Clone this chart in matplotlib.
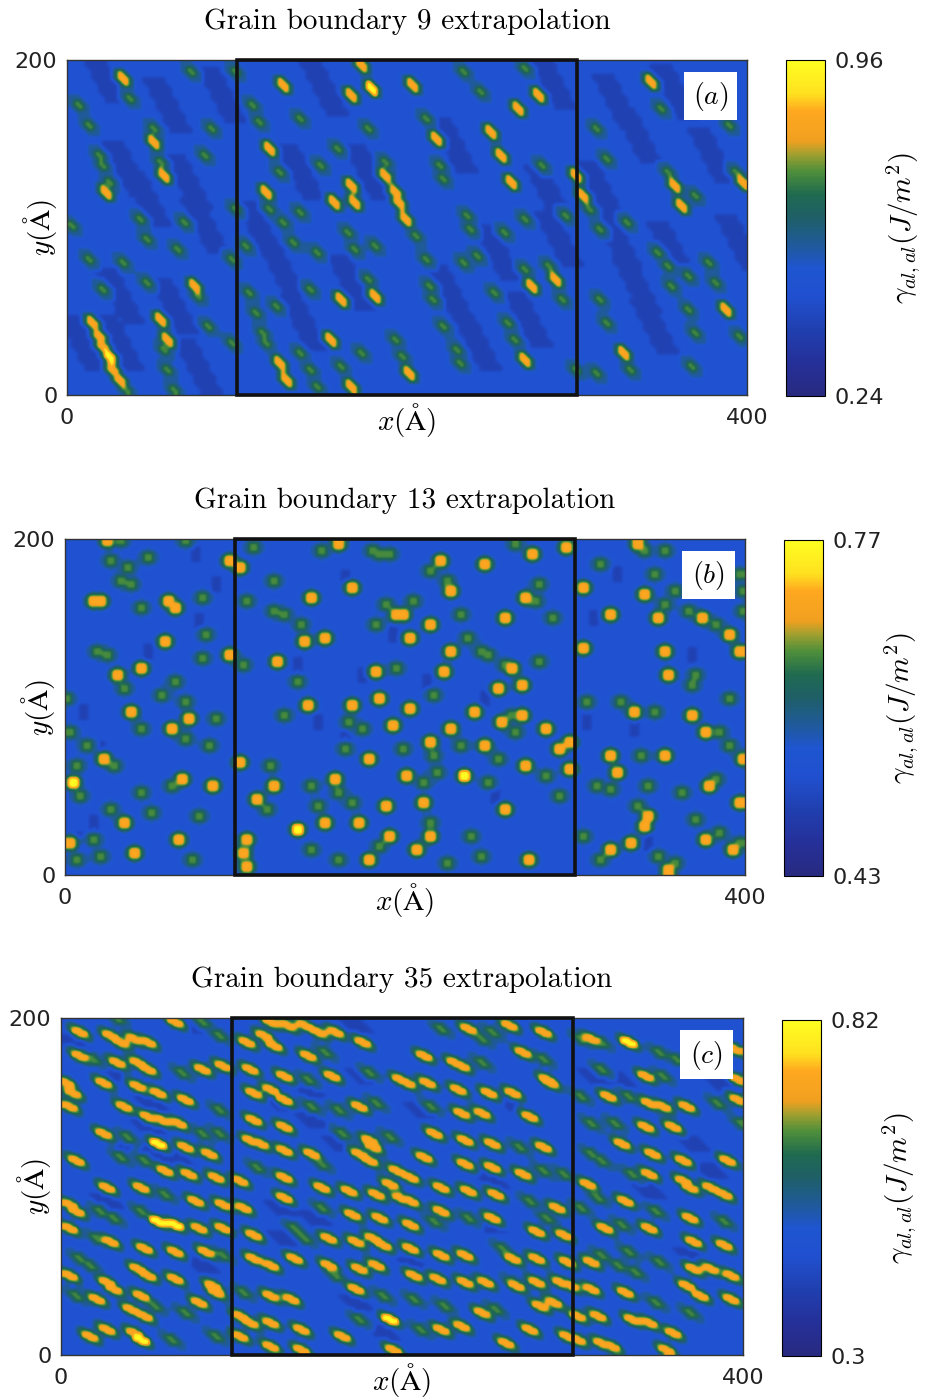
import numpy as np
import matplotlib
matplotlib.use('Agg')
import matplotlib.pyplot as plt
from matplotlib.colors import LinearSegmentedColormap
from matplotlib.patches import Rectangle

plt.rcParams['mathtext.fontset'] = 'cm'

# Spots, in Angstrom. hot = orange, warm = green, cold = dark blue, top = yellow

titles = ['Grain boundary 9 extrapolation', 'Grain boundary 13 extrapolation', 'Grain boundary 35 extrapolation']
panel_tags = ['$(a)$', '$(b)$', '$(c)$']
vmins = [0.24, 0.43, 0.30]
vmaxs = [0.96, 0.77, 0.82]
tick_low = ['0.24', '0.43', '0.3']
tick_high = ['0.96', '0.77', '0.82']

gb9_top = [(24, 22), (179, 183)]
gb9_hot = [(32, 188), (50, 151), (57, 131), (75, 65), (55, 45), (59, 33), (15, 43), (18, 35), (21, 28), (27, 14), (31, 8),
           (173, 196), (166, 178), (126, 184), (119, 146), (166, 124), (169, 115), (187, 131), (192, 121), (180, 58),
           (160, 56), (155, 32), (125, 19), (129, 9), (166, 5), (199, 104), (195, 114), (203, 185), (216, 153), (254, 143),
           (261, 126), (276, 179), (298, 131), (272, 64), (286, 69), (268, 20), (200, 13), (342, 187), (303, 119), (356, 124),
           (360, 112), (396, 126), (327, 24), (387, 50), (23, 120), (116, 120), (157, 115), (248, 156), (264, 171)]
gb9_warm = [(36, 177), (73, 192), (55, 139), (13, 161), (21, 137), (68, 103), (77, 58), (35, 3), (47, 92), (42, 104), (64, 87),
            (33, 79), (13, 81), (46, 66), (20, 62), (80, 142), (84, 159), (96, 81), (82, 40), (96, 30), (56, 26), (59, 14),
            (63, 3), (98, 193), (98, 110), (2, 100), (51, 158), (25, 126), (18, 142), (7, 172), (137, 164), (119, 111),
            (133, 91), (177, 68), (114, 37), (117, 30), (160, 16), (192, 32), (196, 22), (200, 13), (106, 60), (110, 49),
            (109, 172), (113, 162), (124, 133), (148, 136), (158, 147), (176, 159), (126, 102), (137, 108), (147, 85),
            (169, 86), (181, 88), (122, 52), (143, 63), (137, 25), (142, 15), (146, 5), (173, 25), (165, 97), (105, 89),
            (187, 139), (219, 137), (235, 107), (269, 105), (292, 106), (241, 83), (212, 64), (221, 41), (228, 26),
            (232, 192), (242, 181), (269, 195), (211, 165), (278, 136), (221, 129), (204, 95), (210, 80), (236, 98), (232, 78),
            (282, 77), (268, 74), (291, 57), (215, 57), (250, 60), (259, 42), (263, 32), (231, 18), (298, 15), (257, 96),
            (348, 171), (394, 34), (306, 111), (313, 99), (310, 159), (317, 140), (329, 103), (369, 119), (352, 133), (388, 160),
            (392, 132), (347, 85), (352, 77), (376, 79), (381, 67), (355, 64), (313, 57), (317, 42), (331, 15), (366, 16),
            (368, 37), (311, 13), (365, 71), (364, 50)]
gb9_cold = [(59, 173), (35, 134), (31, 58), (62, 52), (76, 17), (30, 31), (8, 31), (80, 100), (70, 126), (21, 191), (151, 182),
            (137, 133), (176, 133), (113, 98), (125, 77), (139, 43), (90, 178), (47, 117), (166, 67), (227, 148), (253, 85),
            (282, 120), (288, 93), (225, 60), (270, 45), (241, 31), (335, 155), (312, 123), (323, 93), (334, 64), (355, 87),
            (394, 90), (345, 41), (378, 142), (357, 180), (323, 175), (284, 186)]

gb13_top = [(5, 55), (136, 26), (235, 59)]
gb13_hot = [(20, 162), (16, 163), (61, 163), (65, 159), (96, 186), (103, 183), (24, 198), (59, 138), (96, 130), (45, 122),
            (30, 118), (38, 96), (73, 93), (63, 86), (22, 68), (69, 57), (87, 52), (3, 18), (41, 12), (67, 21), (34, 31),
            (102, 67), (160, 197), (168, 170), (145, 165), (194, 154), (140, 138), (153, 140), (182, 121), (184, 105), (168, 100),
            (142, 101), (192, 89), (178, 68), (158, 56), (123, 53), (113, 45), (107, 21), (105, 13), (107, 5), (172, 31), (178, 9),
            (153, 30), (189, 40), (190, 23), (124, 126), (200, 59), (198, 154), (215, 148), (227, 168), (221, 187), (247, 185),
            (274, 191), (295, 194), (270, 165), (258, 153), (203, 140), (227, 132), (263, 123), (222, 121), (254, 110), (269, 112),
            (202, 98), (240, 96), (268, 94), (256, 91), (227, 86), (214, 79), (246, 76), (297, 79), (290, 74), (271, 64), (296, 62),
            (211, 42), (259, 38), (215, 23), (206, 15), (273, 9), (283, 87), (336, 197), (340, 166), (321, 154), (349, 153),
            (374, 152), (391, 142), (352, 132), (355, 119), (396, 133), (304, 135), (368, 94), (335, 96), (376, 84), (352, 71),
            (398, 68), (325, 60), (379, 53), (396, 42), (342, 34), (340, 28), (377, 20), (392, 14), (355, 3), (332, 19), (321, 15),
            (304, 170), (321, 70)]
gb13_warm = [(49, 189), (36, 182), (26, 186), (81, 165), (44, 159), (83, 142), (81, 129), (64, 115), (56, 106), (35, 110), (3, 85),
             (44, 87), (85, 77), (13, 76), (28, 65), (7, 65), (45, 49), (9, 47), (27, 38), (79, 35), (21, 11), (74, 9), (6, 9),
             (19, 133), (25, 131), (1, 104), (70, 198), (32, 198), (17, 20), (39, 173), (32, 175), (89, 92), (71, 102), (70, 80),
             (50, 36), (62, 53), (110, 195), (185, 190), (190, 190), (180, 192), (122, 156), (128, 154), (182, 149), (188, 161),
             (105, 125), (136, 114), (194, 123), (128, 94), (120, 64), (119, 38), (160, 48), (168, 42), (198, 75), (145, 15),
             (160, 8), (185, 16), (123, 175), (106, 163), (175, 86), (166, 90), (164, 75), (148, 41), (145, 52), (138, 148),
             (150, 192), (205, 162), (225, 175), (237, 141), (244, 133), (249, 130), (258, 125), (277, 163), (287, 153), (233, 154),
             (215, 180), (278, 126), (216, 106), (262, 95), (265, 85), (255, 69), (249, 54), (211, 54), (291, 47), (232, 76),
             (216, 71), (218, 60), (239, 23), (244, 10), (224, 7), (215, 31), (283, 59), (278, 172), (265, 196), (341, 192),
             (352, 193), (315, 185), (359, 169), (353, 161), (366, 156), (382, 148), (371, 118), (368, 112), (390, 104), (327, 102),
             (346, 96), (307, 102), (390, 76), (385, 84), (338, 70), (362, 48), (383, 57), (321, 51), (312, 53), (370, 32), (385, 25),
             (396, 19), (304, 23), (315, 8), (349, 10), (359, 7), (342, 52), (398, 157), (399, 168), (396, 178), (336, 41), (347, 179)]
gb13_cold = [(77, 190), (88, 173), (78, 150), (48, 132), (10, 96), (21, 74), (17, 30), (9, 20), (164, 177), (136, 125), (175, 118),
             (148, 91), (193, 142), (164, 85), (212, 114), (247, 104), (252, 47), (324, 178), (311, 152), (306, 90), (334, 86),
             (343, 19), (369, 131)]

gb35_top = [(57, 79), (67, 76), (47, 8), (56, 125), (192, 21), (332, 184)]
gb35_hot = [(11, 191), (28, 188), (34, 185), (43, 187), (50, 184), (67, 197), (11, 177), (33, 172), (44, 172), (51, 169), (95, 171),
            (82, 168), (25, 161), (3, 160), (7, 155), (45, 158), (56, 154), (72, 151), (5, 146), (36, 147), (50, 141), (59, 138),
            (69, 137), (25, 131), (72, 122), (87, 119), (9, 115), (61, 109), (74, 107), (90, 104), (26, 98), (47, 98), (79, 91),
            (94, 88), (4, 89), (9, 85), (81, 74), (95, 74), (5, 75), (29, 66), (48, 63), (66, 61), (84, 60), (44, 51), (51, 46),
            (5, 47), (26, 42), (30, 39), (66, 45), (88, 41), (90, 37), (47, 35), (21, 33), (80, 31), (40, 27), (48, 23), (27, 14),
            (16, 10), (43, 12), (123, 197), (132, 194), (143, 194), (151, 190), (160, 190), (109, 185), (118, 188), (125, 182),
            (145, 177), (177, 184), (111, 169), (130, 164), (158, 164), (198, 163), (112, 154), (122, 156), (130, 151), (174, 147),
            (113, 139), (131, 135), (181, 126), (183, 123), (110, 126), (116, 124), (130, 121), (147, 119), (174, 118), (181, 114),
            (196, 109), (131, 105), (104, 103), (153, 99), (169, 96), (192, 101), (199, 92), (184, 95), (107, 87), (131, 93),
            (170, 82), (186, 80), (113, 70), (156, 69), (173, 66), (183, 68), (189, 64), (113, 57), (123, 52), (136, 57), (156, 53),
            (174, 51), (185, 52), (122, 35), (135, 33), (172, 38), (105, 23), (110, 19), (123, 18), (141, 15), (164, 11), (104, 10),
            (123, 5), (141, 3), (195, 3), (238, 192), (263, 195), (282, 191), (213, 176), (231, 173), (234, 170), (271, 179),
            (202, 161), (215, 160), (232, 157), (251, 155), (264, 154), (286, 160), (235, 142), (247, 142), (275, 140), (218, 130),
            (236, 127), (253, 124), (283, 123), (213, 117), (237, 112), (253, 110), (271, 107), (204, 105), (222, 98), (238, 97),
            (254, 94), (204, 91), (290, 87), (222, 85), (253, 81), (204, 76), (278, 73), (294, 70), (205, 63), (222, 58), (236, 59),
            (265, 57), (279, 57), (296, 54), (220, 45), (206, 46), (236, 43), (249, 42), (266, 41), (279, 43), (293, 43), (298, 40),
            (246, 24), (281, 28), (289, 30), (223, 15), (235, 16), (274, 15), (261, 6), (297, 11), (285, 163), (311, 186), (395, 180),
            (342, 164), (397, 163), (321, 153), (345, 149), (352, 147), (397, 151), (343, 135), (359, 135), (367, 147), (328, 124),
            (347, 119), (390, 115), (365, 114), (345, 107), (309, 100), (364, 103), (369, 98), (381, 98), (388, 94), (331, 90),
            (369, 81), (319, 75), (344, 74), (388, 65), (371, 66), (310, 54), (371, 51), (381, 51), (393, 47), (311, 39), (367, 41),
            (375, 35), (392, 33), (330, 36), (315, 23), (303, 23), (334, 20), (344, 18), (359, 13), (316, 7), (322, 4), (354, 3),
            (303, 8)]
gb35_warm = [(38, 129), (19, 174), (70, 166), (93, 145), (83, 131), (92, 130), (35, 116), (22, 84), (30, 81), (47, 84), (61, 94),
             (8, 34), (16, 52), (10, 57), (55, 28), (64, 8), (90, 10), (73, 25), (21, 68), (82, 197), (33, 199), (92, 188), (95, 59),
             (49, 114), (181, 166), (184, 148), (147, 147), (163, 144), (192, 129), (155, 179), (144, 163), (164, 131), (153, 86),
             (136, 74), (160, 47), (189, 35), (174, 21), (153, 112), (115, 110), (106, 37), (142, 68), (247, 186), (253, 191),
             (222, 193), (246, 172), (283, 175), (216, 146), (268, 122), (283, 108), (295, 106), (274, 90), (285, 80), (218, 78),
             (207, 32), (255, 26), (264, 42), (211, 14), (224, 28), (259, 62), (238, 80), (305, 186), (317, 185), (305, 153),
             (332, 153), (352, 164), (385, 148), (317, 169), (310, 136), (324, 136), (398, 136), (310, 119), (316, 114), (334, 107),
             (305, 87), (329, 76), (349, 85), (388, 79), (316, 59), (326, 52), (336, 48), (332, 60), (351, 55), (349, 31), (369, 25),
             (361, 175), (350, 178), (314, 92)]
gb35_cold = [(31, 166), (52, 148), (50, 135), (35, 124), (53, 119), (69, 115), (26, 91), (82, 52), (8, 40), (6, 184), (75, 195),
             (172, 195), (145, 156), (147, 139), (163, 124), (129, 86), (149, 80), (131, 68), (172, 30), (188, 12), (129, 148),
             (176, 164), (211, 145), (265, 148), (252, 103), (251, 76), (206, 53), (381, 109), (313, 164), (345, 97), (371, 125),
             (369, 59), (387, 161), (326, 162)]

top_spots = [gb9_top, gb13_top, gb35_top]
hot_spots = [gb9_hot, gb13_hot, gb35_hot]
warm_spots = [gb9_warm, gb13_warm, gb35_warm]
cold_spots = [gb9_cold, gb13_cold, gb35_cold]

# levels on the colour bar (0 bottom, 1 top)
top_level, hot_level, warm_level, rim_level, halo_level, base_level, cold_level = 1.0, 0.84, 0.66, 0.60, 0.45, 0.33, 0.21
cell = 2  # Angstrom
spot_wide = [1.6, 1.7, 2.1]  # half size of a spot, in cells
spot_tall = [2.0, 1.6, 1.7]
spot_lean = [0.5, 0.0, 0.9]  # how far a spot leans to the right going down
cold_rows = [8, 2, 2]  # half size of a dark patch, in cells
cold_cols = [3, 1, 3]

cmap = LinearSegmentedColormap.from_list('gamma', [
    (0.00, '#282a80'), (0.10, '#25309a'), (0.20, '#2040b0'), (0.30, '#2050d0'), (0.38, '#1f55d0'), (0.45, '#1f5a9a'),
    (0.53, '#1f5f68'), (0.60, '#1f6a50'), (0.67, '#4f8f3a'), (0.72, '#a0a030'), (0.76, '#f0a020'), (0.85, '#ffa820'),
    (0.90, '#ffe020'), (1.00, '#ffff20')])

# pixel boxes of the image axes, colour bars and black frames
px_w, px_h = 930, 1397
img_box = [(67, 60, 747, 395), (65, 539, 745, 875), (61, 1018, 743, 1355)]
bar_box = [(786, 60, 825, 396), (784, 540, 823, 876), (782, 1020, 821, 1356)]


def to_rect(box):
    return [box[0] / px_w, 1 - box[3] / px_h, (box[2] - box[0]) / px_w, (box[3] - box[1]) / px_h]


def stamp(grid, spots, value, n, size):
    # leaning ellipse of cells round each spot
    wide, tall, lean = spot_wide[n] * size, spot_tall[n] * size, spot_lean[n]
    r = int(max(wide, tall) * (1 + lean)) + 1
    for x, y in spots:
        i0 = int(y / cell)
        j0 = int(x / cell)
        for i in range(i0 - r, i0 + r + 1):
            for j in range(j0 - r, j0 + r + 1):
                dj = j - j0 + lean * (i - i0)
                if (dj / wide) ** 2 + ((i - i0) / tall) ** 2 <= 1 and 0 <= i < grid.shape[0] and 0 <= j < grid.shape[1]:
                    grid[i, j] = max(grid[i, j], value)


def stamp_cold(grid, spots, value, rows, cols, lean):
    for x, y in spots:
        i0 = int(y / cell)
        j0 = int(x / cell)
        for i in range(i0 - rows, i0 + rows + 1):
            shift = int(round((i0 - i) * lean))
            for j in range(j0 + shift - cols, j0 + shift + cols + 1):
                if 0 <= i < grid.shape[0] and 0 <= j < grid.shape[1]:
                    grid[i, j] = min(grid[i, j], value)


fig = plt.figure(figsize=(9.3, 13.97), dpi=100)

for n in range(3):
    lo, hi = vmins[n], vmaxs[n]
    span = hi - lo
    grid = np.full((200 // cell, 400 // cell), lo + base_level * span)
    stamp_cold(grid, cold_spots[n], lo + cold_level * span, cold_rows[n], cold_cols[n], spot_lean[n])
    stamp(grid, warm_spots[n] + hot_spots[n] + top_spots[n], lo + halo_level * span, n, 1.9)
    stamp(grid, warm_spots[n], lo + warm_level * span, n, 0.9)
    stamp(grid, hot_spots[n] + top_spots[n], lo + rim_level * span, n, 1.4)
    stamp(grid, hot_spots[n], lo + hot_level * span, n, 1.0)
    stamp(grid, top_spots[n], lo + top_level * span, n, 1.0)

    ax = fig.add_axes(to_rect(img_box[n]))
    im = ax.imshow(grid, origin='lower', extent=[0, 400, 0, 200], aspect='auto', cmap=cmap, vmin=lo, vmax=hi,
                   interpolation='bicubic')
    ax.add_patch(Rectangle((100, 0), 200, 200, fill=False, ec='#111111', lw=2.6, clip_on=False, zorder=3))
    ax.add_patch(Rectangle((363, 164), 31, 29, fc='white', ec='none', zorder=3))
    ax.text(378.5, 178, panel_tags[n], ha='center', va='center', fontsize=20, zorder=4)
    ax.set_xticks([0, 400])
    ax.set_xticklabels(['0', '400'], fontsize=16, color='#222222')
    ax.set_yticks([0, 200])
    ax.set_yticklabels(['0', '200'], fontsize=16, color='#222222')
    ax.tick_params(length=0)
    ax.tick_params(axis='x', pad=9)
    ax.tick_params(axis='y', pad=7)
    ax.set_xlabel(r'$x(\mathrm{\AA})$', fontsize=21, labelpad=-19)
    ax.set_ylabel(r'$y(\mathrm{\AA})$', fontsize=21, labelpad=-32)
    ax.set_title(titles[n], family='cmr10', fontsize=21, pad=22)
    for s in ax.spines.values():
        s.set_linewidth(1.0)
        s.set_color('#333333')

    cax = fig.add_axes(to_rect(bar_box[n]))
    cbar = fig.colorbar(im, cax=cax, ticks=[lo, hi])
    cbar.ax.set_yticklabels([tick_low[n], tick_high[n]], fontsize=16, color='#222222')
    cbar.ax.tick_params(length=0, pad=7)
    cbar.set_label(r'$\gamma_{al,al}(J/m^2)$', fontsize=21, labelpad=0)

fig.savefig('out.png', dpi=100)
